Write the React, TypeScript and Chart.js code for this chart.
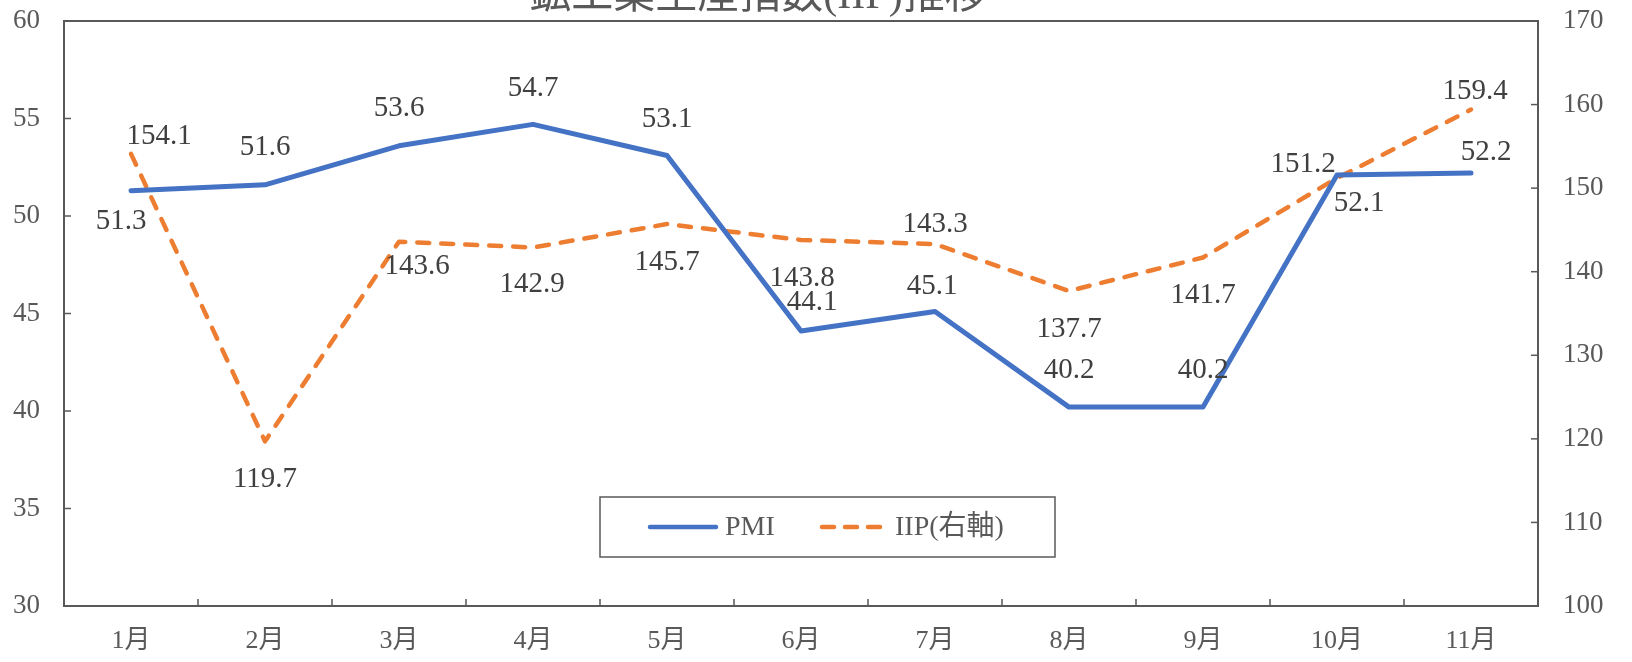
import React, { useEffect, useRef } from "react";
import { Chart, registerables } from "chart.js";

Chart.register(...registerables);

const categories = ["1月", "2月", "3月", "4月", "5月", "6月", "7月", "8月", "9月", "10月", "11月"];
const pmiValues = [51.3, 51.6, 53.6, 54.7, 53.1, 44.1, 45.1, 40.2, 40.2, 52.1, 52.2];
const iipValues = [154.1, 119.7, 143.6, 142.9, 145.7, 143.8, 143.3, 137.7, 141.7, 151.2, 159.4];
const titleText = "鉱工業生産指数(IIP)推移";
const pmiName = "PMI";
const iipName = "IIP(右軸)";

// label offsets (dx, dy) relative to each point
const pmiLabelOffsets: [number, number][] = [
  [-10, 31], [0, -37], [0, -37], [0, -36], [0, -36], [11, -29], [-3, -25], [0, -37], [0, -37], [22, 28], [15, -21],
];
const iipLabelOffsets: [number, number][] = [
  [28, -17], [0, 38], [18, 25], [-1, 37], [0, 38], [1, 38], [0, -20], [0, 38], [0, 38], [-34, -14], [4, -18],
];

const SERIF = '"Liberation Serif", "Noto Sans CJK JP", serif';
const TEXT = "#595959";
const LABEL = "#404040";
const BLUE = "#4472C4";
const ORANGE = "#ED7D31";

const decorPlugin = {
  id: "decor",
  beforeDatasetsDraw(chart: any) {
    const { ctx, chartArea } = chart;
    const { left, right, top, bottom } = chartArea;
    ctx.save();
    ctx.strokeStyle = "#595959";
    ctx.lineWidth = 2;
    ctx.strokeRect(left, top, right - left, bottom - top);
    ctx.lineWidth = 1.5;
    const y = chart.scales.y;
    const y1 = chart.scales.y1;
    const x = chart.scales.x;
    y.ticks.forEach((t: any) => {
      const py = y.getPixelForValue(t.value);
      if (py <= top + 1 || py >= bottom - 1) return;
      ctx.beginPath();
      ctx.moveTo(left, py);
      ctx.lineTo(left + 7, py);
      ctx.stroke();
    });
    y1.ticks.forEach((t: any) => {
      const py = y1.getPixelForValue(t.value);
      if (py <= top + 1 || py >= bottom - 1) return;
      ctx.beginPath();
      ctx.moveTo(right, py);
      ctx.lineTo(right - 7, py);
      ctx.stroke();
    });
    for (let i = 1; i < categories.length; i++) {
      const px = (x.getPixelForValue(i - 1) + x.getPixelForValue(i)) / 2;
      ctx.beginPath();
      ctx.moveTo(px, bottom);
      ctx.lineTo(px, bottom - 7);
      ctx.stroke();
    }
    ctx.restore();
  },
  afterDraw(chart: any) {
    const { ctx } = chart;
    ctx.save();
    // title (clipped at top like reference)
    ctx.font = `42px ${SERIF}`;
    ctx.fillStyle = TEXT;
    ctx.textAlign = "center";
    ctx.textBaseline = "alphabetic";
    ctx.fillText(titleText, 758, 8);

    // data labels
    ctx.font = `29px ${SERIF}`;
    ctx.fillStyle = LABEL;
    ctx.textBaseline = "middle";
    const drawLabels = (dsIndex: number, values: number[], offs: [number, number][]) => {
      const meta = chart.getDatasetMeta(dsIndex);
      meta.data.forEach((pt: any, i: number) => {
        const [dx, dy] = offs[i];
        ctx.fillText(values[i].toFixed(1), pt.x + dx, pt.y + dy);
      });
    };
    drawLabels(0, pmiValues, pmiLabelOffsets);
    drawLabels(1, iipValues, iipLabelOffsets);

    // legend
    ctx.fillStyle = "#ffffff";
    ctx.fillRect(600, 497, 455, 60);
    ctx.strokeStyle = "#595959";
    ctx.lineWidth = 1.5;
    ctx.strokeRect(600, 497, 455, 60);
    ctx.lineCap = "round";
    ctx.lineWidth = 4.5;
    ctx.strokeStyle = BLUE;
    ctx.beginPath();
    ctx.moveTo(650, 527);
    ctx.lineTo(716, 527);
    ctx.stroke();
    ctx.strokeStyle = ORANGE;
    ctx.setLineDash([12, 11]);
    ctx.beginPath();
    ctx.moveTo(822, 527);
    ctx.lineTo(880, 527);
    ctx.stroke();
    ctx.setLineDash([]);
    ctx.font = `28px ${SERIF}`;
    ctx.fillStyle = TEXT;
    ctx.textAlign = "left";
    ctx.textBaseline = "middle";
    ctx.fillText(pmiName, 725, 528);
    ctx.fillText(iipName, 895, 528);
    ctx.restore();
  },
};

export default function App() {
  const ref = useRef<HTMLCanvasElement | null>(null);
  useEffect(() => {
    if (!ref.current) return;
    const chart = new Chart(ref.current, {
      type: "line",
      data: {
        labels: categories,
        datasets: [
          {
            label: pmiName,
            data: pmiValues,
            yAxisID: "y",
            borderColor: BLUE,
            backgroundColor: BLUE,
            borderWidth: 5,
            pointRadius: 0,
            tension: 0,
            borderCapStyle: "round",
            borderJoinStyle: "round",
          },
          {
            label: iipName,
            data: iipValues,
            yAxisID: "y1",
            borderColor: ORANGE,
            backgroundColor: ORANGE,
            borderWidth: 4.5,
            borderDash: [12, 12],
            pointRadius: 0,
            tension: 0,
            borderCapStyle: "round",
            borderJoinStyle: "round",
          },
        ],
      },
      options: {
        responsive: false,
        animation: false,
        layout: { padding: { top: 21, left: 0, right: 0, bottom: 0 } },
        plugins: {
          legend: { display: false },
          title: { display: false },
          tooltip: { enabled: false },
        },
        scales: {
          x: {
            offset: true,
            grid: { display: false, drawTicks: false },
            border: { display: false },
            ticks: { font: { family: SERIF, size: 26 }, color: TEXT, padding: 20, maxRotation: 0 },
            afterFit: (s: any) => { s.height = 56; s.paddingLeft = 0; s.paddingRight = 0; },
          },
          y: {
            position: "left",
            min: 30,
            max: 60,
            grid: { display: false, drawTicks: false },
            border: { display: false },
            ticks: { stepSize: 5, font: { family: SERIF, size: 27 }, color: TEXT, padding: 24 },
            afterFit: (s: any) => { s.width = 64; s.paddingTop = 0; s.paddingBottom = 0; },
          },
          y1: {
            position: "right",
            min: 100,
            max: 170,
            grid: { display: false, drawTicks: false },
            border: { display: false },
            ticks: { stepSize: 10, font: { family: SERIF, size: 27 }, color: TEXT, padding: 25 },
            afterFit: (s: any) => { s.width = 94; s.paddingTop = 0; s.paddingBottom = 0; },
          },
        },
      } as any,
      plugins: [decorPlugin],
    });
    return () => chart.destroy();
  }, []);
  return (
    <div style={{ position: "fixed", left: 0, top: 0, width: 1632, height: 662, background: "#fff" }}>
      <canvas ref={ref} width={1632} height={662} style={{ display: "block" }} />
    </div>
  );
}
